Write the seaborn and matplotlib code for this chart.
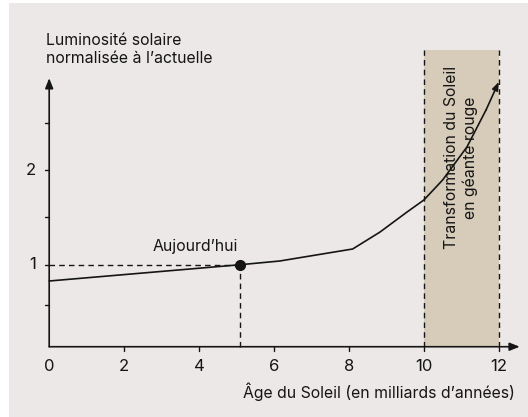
import matplotlib
matplotlib.use("Agg")
import matplotlib.pyplot as plt
import seaborn as sns
import pandas as pd
from matplotlib.patches import Rectangle

# ---- data ----
age = [0, 5.1, 6.15, 8.1, 8.83, 9.55, 10.0, 10.5, 11.15, 11.66, 12.0]
lum = [0.828, 1.0, 1.039, 1.166, 1.345, 1.556, 1.683, 1.894, 2.243, 2.634, 2.93]
today_age = 5.1
today_lum = 1.0
x_ticks = [2, 4, 6, 8, 10, 12]
x_tick_labels = ["2", "4", "6", "8", "10", "12"]
y_ticks = [0.57, 1, 1.5, 2, 2.5]
y_tick_labels = ["", "1", "", "2", ""]
phase_start, phase_end = 10, 12
phase_label = "Transformation du Soleil\nen géante rouge"
today_label = "Aujourd\u2019hui"
y_title = "Luminosité solaire\nnormalisée à l\u2019actuelle"
x_title = "Âge du Soleil (en milliards d\u2019années)"

sns.set_theme(style="white")
plt.rcParams["font.family"] = ["Inter", "DejaVu Sans"]

INK = "#151515"
BG = "#ece8e7"
PHASE = "#d7ccba"
FS = 11.4

fig = plt.figure(figsize=(5.28, 4.17), dpi=100)
fig.patch.set_facecolor("white")
fig.patches.append(Rectangle((9 / 528, 0), 1 - 9 / 528, 1 - 3 / 417,
                             transform=fig.transFigure, facecolor=BG,
                             edgecolor="none", zorder=-10))
ax = fig.add_axes([0, 0, 1, 1])
ax.set_facecolor("none")
ax.patch.set_alpha(0)
ax.set_xlim(-1.313, 12.78)
ax.set_ylim(-0.608, 3.795)
ax.axis("off")

y0 = 0.134  # x-axis baseline
ytop_phase = 3.27

# phase band
ax.add_patch(Rectangle((phase_start, y0), phase_end - phase_start, ytop_phase - y0,
                       facecolor=PHASE, edgecolor="none", zorder=1))
for xv in (phase_start, phase_end):
    ax.plot([xv, xv], [y0, ytop_phase], color=INK, lw=1.0, dashes=(4, 3), zorder=2)
ax.text((phase_start + phase_end) / 2, 2.13, phase_label, rotation=90,
        ha="center", va="center", fontsize=FS, color=INK, linespacing=1.3, zorder=3)

# axes with arrows
ax.annotate("", xy=(12.56, y0), xytext=(0, y0),
            arrowprops=dict(arrowstyle="-|>,head_length=0.5,head_width=0.2",
                            color=INK, lw=1.2, shrinkA=0, shrinkB=0), zorder=4)
ax.annotate("", xy=(0, 2.97), xytext=(0, y0),
            arrowprops=dict(arrowstyle="-|>,head_length=0.5,head_width=0.2",
                            color=INK, lw=1.2, shrinkA=0, shrinkB=0), zorder=4)

# ticks
for xt, lab in zip(x_ticks, x_tick_labels):
    ax.plot([xt, xt], [y0, y0 - 0.045], color=INK, lw=1.0, zorder=4)
    ax.text(xt, -0.07, lab, ha="center", va="center", fontsize=FS + 0.6, color=INK)
ax.text(0, -0.07, "0", ha="center", va="center", fontsize=FS + 0.6, color=INK)
for yt, lab in zip(y_ticks, y_tick_labels):
    ax.plot([-0.11, 0], [yt, yt], color=INK, lw=1.0, zorder=4)
    if lab:
        ax.text(-0.36, yt, lab, ha="right", va="center", fontsize=FS + 0.6, color=INK)

# reference dashed lines for today
ax.plot([0, today_age], [today_lum, today_lum], color=INK, lw=1.0, dashes=(4, 3), zorder=3)
ax.plot([today_age, today_age], [y0, today_lum], color=INK, lw=1.0, dashes=(4, 3), zorder=3)

# luminosity curve
df = pd.DataFrame({"age": age, "lum": lum})
sns.lineplot(data=df.iloc[:-1], x="age", y="lum", ax=ax, color=INK, lw=1.2,
             sort=False, zorder=5)
ax.annotate("", xy=(age[-1], lum[-1]), xytext=(age[-2], lum[-2]),
            arrowprops=dict(arrowstyle="-|>,head_length=0.4,head_width=0.15",
                            color=INK, lw=1.2, shrinkA=0, shrinkB=0), zorder=5)
ax.plot([today_age], [today_lum], "o", color=INK, ms=7, zorder=6)
ax.set_xlabel("")
ax.set_ylabel("")

# labels
ax.text(3.89, 1.15, today_label, ha="center", va="baseline", fontsize=FS, color=INK)
ax.text(-0.085, 3.45, y_title, ha="left", va="top", fontsize=FS, color=INK,
        linespacing=1.3)
ax.text(12.43, -0.408, x_title, ha="right", va="baseline", fontsize=FS, color=INK)

fig.savefig("out.png", dpi=100)
